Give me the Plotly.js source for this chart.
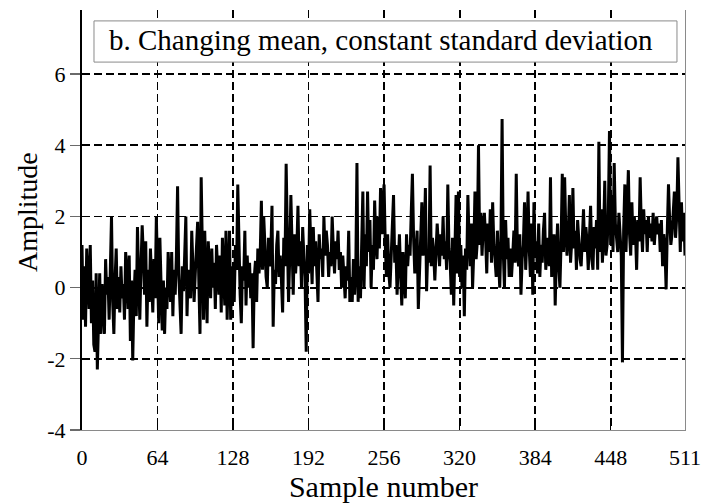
<!DOCTYPE html>
<html>
<head>
<meta charset="utf-8">
<script src="https://cdn.plot.ly/plotly-3.0.1.min.js"></script>
<style>
  html, body { margin: 0; padding: 0; background: #ffffff; }
  #chart { width: 702px; height: 504px; }
</style>
</head>
<body>
<div id="chart"></div>
<script>
// ---- data ----
const chartTitle = "b. Changing mean, constant standard deviation";
const xTitle = "Sample number";
const yTitle = "Amplitude";

const xTickVals = [0, 64, 128, 192, 256, 320, 384, 448, 511];
const xTickText = ["0", "64", "128", "192", "256", "320", "384", "448", "511"];
const xGridVals = [64, 128, 192, 256, 320, 384, 448];
const yTickVals = [-4, -2, 0, 2, 4, 6];
const yTickText = ["-4", "-2", "0", "2", "4", "6"];
const yGridVals = [-2, 0, 2, 4, 6];

const amplitude = [
  1.2, -0.9, 0.6, -1.1, 1.1, 0.3, -0.6, 1.2, -1.0, 0.2, -1.6, -1.8, 0.4, -2.3, -0.8, 0.4,
  -1.3, 0.1, -0.5, -1.3, 0.8, -0.2, 0.3, -0.9, 0.5, 2.0, -0.4, -1.3, 0.2, 1.1, -0.6, 0.3,
  -0.7, 0.6, -0.3, 0.1, -0.9, 1.0, 0.4, -0.6, 0.9, -1.5, 0.2, -2.05, -0.3, 0.5, -0.8, 1.7,
  0.3, -0.9, 0.6, 1.75, 0.9, -0.2, 1.3, -1.1, 0.5, -0.4, 1.1, 0.2, -0.7, 0.8, -0.3, 2.0,
  0.6, -1.0, 1.4, -0.3, -1.2, 0.2, -1.3, 0.0, -0.6, 1.0, 0.3, -0.4, 1.0, -0.8, 0.5, -0.2,
  0.9, 2.85, 0.4, -0.5, -1.3, 0.6, -0.1, 0.9, 2.0, -0.8, 0.5, 0.1, -0.3, 1.6, 0.7, -0.4,
  0.4, 1.0, 1.85, 0.2, -1.3, 3.1, 0.6, -0.9, 1.6, 0.2, -1.0, 1.3, 0.5, -0.3, 1.1, 0.0,
  0.7, -0.6, 1.2, 0.3, -0.2, 0.9, -0.7, 1.4, 0.1, -0.5, 1.6, -0.9, 0.4, 1.6, -0.9, 0.6,
  0.2, -0.4, 1.2, 0.5, 2.9, 0.8, -0.2, -1.0, 0.6, 0.2, 1.6, -0.5, 0.9, 0.0, 0.7, -0.3,
  0.4, -1.7, 0.3, 0.75, -0.4, 1.1, 0.4, 0.9, 2.44, 0.5, 2.0, 1.2, 0.3, 0.0, 1.4, 0.6,
  1.0, 2.3, -1.1, 0.5, 0.1, 1.2, 1.6, 0.3, 0.9, 0.2, -0.7, 1.4, 0.6, 3.48, 1.1, -0.4,
  0.8, 2.6, 1.2, -0.2, 1.5, 0.4, 1.0, 2.3, 0.6, 1.3, 0.0, 1.7, 0.9, 0.3, -1.8, 1.2,
  0.4, 2.2, 1.0, 0.1, 1.7, 0.6, 1.3, 0.2, -0.4, 1.5, 0.8, 1.1, 0.3, 2.0, 0.9, 1.6,
  1.2, 0.3, 1.0, 0.6, 2.0, 1.1, 0.4, 1.3, 0.8, 1.6, 0.5, 1.0, 0.0, 0.9, 0.4, -0.3,
  0.6, 0.2, 1.6, -0.4, 0.3, -0.4, 0.8, -0.2, 0.5, 3.5, -0.4, 0.6, -0.3, 1.2, 2.7, 0.0,
  1.5, 0.6, 2.7, 1.0, 1.9, 0.0, 1.2, 0.5, 2.45, 1.3, 0.8, 2.0, 1.1, 2.8, 1.5, 2.4,
  2.9, 1.2, 0.3, 1.5, 0.4, 0.0, 0.9, 1.3, 2.6, 0.7, 1.2, -0.2, 0.8, 1.5, 0.4, -0.5,
  1.0, 0.5, -0.3, 1.5, 0.6, 1.2, 0.9, 2.1, 3.2, 1.4, 0.4, 1.0, 1.6, -0.6, 0.5, 1.1,
  2.4, 0.9, 1.3, 2.8, -0.1, 1.0, 0.7, 3.43, 0.6, 1.4, 1.0, 0.2, 0.9, 1.8, 1.2, 0.6,
  1.5, 0.9, 2.0, 0.8, 1.3, 0.5, 2.9, 1.1, 0.7, -0.2, 1.4, -0.5, 1.0, 2.6, 0.4, 2.7,
  0.3, 1.2, 0.0, 0.9, -0.8, 1.1, 0.5, 2.6, 1.4, 0.6, 1.8, 0.0, 1.0, 2.7, 0.8, 1.3,
  4.0, 1.2, 2.1, 0.9, 1.7, 2.1, 1.4, 0.4, 1.8, 1.0, 2.2, 0.7, 2.4, 1.2, 0.8, 0.3,
  1.6, 0.9, 0.0, 1.3, 4.74, 1.0, 0.0, 1.9, 0.8, 1.4, 0.3, 1.1, 0.3, 0.9, 1.6, 0.7,
  3.2, 1.0, 0.6, 1.5, -0.2, 0.8, 1.2, 2.4, 0.5, 1.4, 2.7, 1.1, 0.3, 1.8, -0.2, 2.4,
  0.9, 1.3, 0.4, 1.8, 0.3, 1.2, 0.7, 1.6, 2.1, 0.5, 1.0, 1.4, 0.6, 3.1, 0.3, 1.2,
  1.5, -0.5, 0.9, 1.8, 0.6, 0.0, 1.3, 3.2, 1.0, 3.1, 1.6, 0.9, 1.4, 2.6, 0.7, 1.3,
  2.8, 1.1, 1.6, 0.5, 1.9, 1.2, 0.8, 0.6, 1.5, 2.2, 1.0, 1.7, 1.3, 0.5, 1.4, 2.3,
  0.8, 0.5, 1.7, 1.1, 1.9, 0.5, 4.1, 1.0, 2.2, 0.7, 1.5, 3.0, 0.9, 1.2, 2.0, 4.4,
  1.2, 2.6, 1.0, 3.5, 1.8, 1.3, 1.0, 2.1, 1.4, 0.9, -2.1, 1.6, 2.9, 1.0, 2.2, 3.3,
  1.5, 0.9, 2.4, 1.2, 2.0, 1.6, 0.5, 1.9, 1.3, 3.1, 1.7, 1.0, 2.2, 1.5, 1.9, 1.0,
  2.0, 1.4, 1.8, 1.3, 2.1, 1.2, 1.7, 2.0, 1.5, 1.8, 1.0, 1.9, 0.6, 1.5, 1.1, -0.05,
  1.6, 2.9, 1.9, 1.2, 1.5, 2.3, 2.7, 1.4, 2.0, 3.66, 1.8, 1.0, 2.4, 1.3, 2.1, 0.9
];
const sampleNumber = amplitude.map((_, i) => i);

const xRange = [0, 511];
const yRange = [-4, 7.8];

// ---- styling ----
const serifFamily = "Liberation Serif";
const gridStyle = { showgrid: true, gridcolor: "#000000", gridwidth: 1.8, griddash: "8px,4px" };

const dataTrace = {
  x: sampleNumber,
  y: amplitude,
  type: "scatter",
  mode: "lines",
  line: { color: "#000000", width: 3 },
  xaxis: "x",
  yaxis: "y",
  hoverinfo: "skip",
  showlegend: false
};
// empty trace so the overlay axes (frame, ticks, labels) get drawn
const frameTrace = {
  x: [], y: [], type: "scatter", mode: "lines",
  xaxis: "x2", yaxis: "y2", hoverinfo: "skip", showlegend: false
};

const layout = {
  width: 702,
  height: 504,
  margin: { l: 82, r: 17, t: 10, b: 74, pad: 0 },
  paper_bgcolor: "#ffffff",
  plot_bgcolor: "#ffffff",
  font: { family: serifFamily, color: "#000000", size: 22 },
  showlegend: false,
  // main axes: carry the data and the dashed grid
  xaxis: Object.assign({
    range: xRange, tickmode: "array", tickvals: xGridVals,
    showticklabels: false, ticks: "", showline: false, zeroline: false
  }, gridStyle),
  yaxis: Object.assign({
    range: yRange, tickmode: "array", tickvals: yGridVals,
    showticklabels: false, ticks: "", zeroline: false,
    showline: true, linecolor: "#8a8a8a", linewidth: 1, mirror: true
  }, gridStyle),
  // overlay axes: lines, ticks, tick labels, titles
  xaxis2: {
    overlaying: "x", anchor: "y2", side: "bottom",
    range: xRange, tickmode: "array", tickvals: xTickVals, ticktext: xTickText,
    ticks: "inside", ticklen: 9, tickwidth: 1.5, tickcolor: "#000000",
    showline: true, linecolor: "#8a8a8a", linewidth: 1,
    showgrid: false, zeroline: false,
    tickfont: { family: serifFamily, size: 22, color: "#000000" },
    ticklabelstandoff: 8,
    title: { text: xTitle, font: { family: serifFamily, size: 30, color: "#000000" }, standoff: 0 }
  },
  yaxis2: {
    overlaying: "y", anchor: "x2", side: "left",
    range: yRange, tickmode: "array", tickvals: yTickVals, ticktext: yTickText,
    ticks: "outside", ticklen: 10, tickwidth: 1.2, tickcolor: "#6a6a6a",
    showline: true, linecolor: "#000000", linewidth: 2,
    showgrid: false, zeroline: false,
    tickfont: { family: serifFamily, size: 22, color: "#000000" }
  },
  shapes: [{
    type: "rect", xref: "paper", yref: "paper",
    x0: 0.0199, x1: 0.9867, y0: 0.876, y1: 0.974,
    fillcolor: "#ffffff", line: { color: "#8a8a8a", width: 1 }, layer: "above"
  }],
  annotations: [
    {
      text: chartTitle, xref: "paper", yref: "paper",
      x: 0.0415, y: 0.928, xanchor: "left", yanchor: "middle",
      showarrow: false, font: { family: serifFamily, size: 29, color: "#000000" }
    },
    {
      text: yTitle, xref: "paper", yref: "paper",
      x: -0.0912, y: 0.519, xanchor: "center", yanchor: "middle", textangle: -90,
      showarrow: false, font: { family: serifFamily, size: 28, color: "#000000" }
    }
  ]
};

function draw() {
  Plotly.newPlot("chart", [dataTrace, frameTrace], layout, { staticPlot: true, displayModeBar: false });
}
if (document.fonts && document.fonts.load) {
  document.fonts.load("28px 'Liberation Serif'").then(draw, draw);
} else {
  draw();
}
</script>
</body>
</html>
